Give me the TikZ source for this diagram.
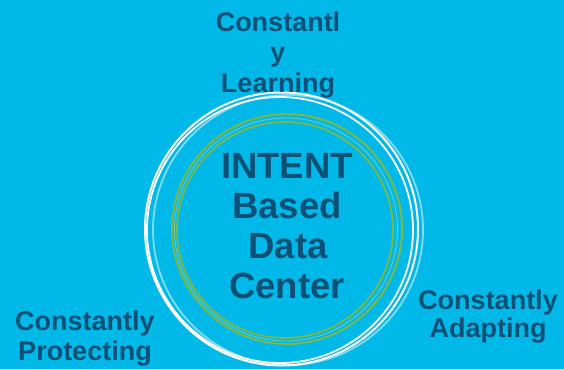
\documentclass[tikz,border=0pt]{standalone}
\usepackage{fontspec}
\setmainfont{Liberation Sans}
\definecolor{bgc}{RGB}{0,185,232}
\definecolor{txc}{RGB}{12,80,118}
\definecolor{grc}{RGB}{122,184,72}
\tikzset{
  lbl/.style={anchor=base, inner sep=0pt, text=txc, font=\fontsize{27}{30}\selectfont\bfseries},
  big/.style={anchor=base, inner sep=0pt, text=txc, font=\fontsize{36.5}{40}\selectfont\bfseries},
  wring/.style={draw=white, line width=2pt},
  gring/.style={draw=grc, line width=2pt}
}
\begin{document}
\begin{tikzpicture}[x=1pt,y=-1pt]
\fill[bgc] (0,0) rectangle (564,369);
\useasboundingbox (0,0) rectangle (564,369);
% rings
\draw[draw=white, opacity=0.5, line width=1.8pt] (288,230) circle (135);
\draw[wring] (281.5,229) circle (136.5);
\draw[wring, line width=1.8pt] (280,230) circle (133);
\draw[gring] (287,229) circle (115);
\draw[draw=grc!50!white, opacity=0.6, line width=0.8pt] (286,229.5) circle (111.5);
\draw[gring, line width=1.8pt] (285,230) circle (108);
% center text
\node[big] (c1) at (287,178) {INTENT};
\node[big] (c2) at (287,218) {Based};
\node[big] (c3) at (288,258) {Data};
\node[big] (c4) at (287,298) {Center};
% top label
\node[lbl] (t1) at (278,32) {Constantl};
\node[lbl] (t2) at (278,62) {y};
\node[lbl] (t3) at (278,92) {Learning};
% bottom left
\node[lbl] (l1) at (85,330) {Constantly};
\node[lbl] (l2) at (85,360) {Protecting};
% bottom right
\node[lbl] (r1) at (488,309) {Constantly};
\node[lbl] (r2) at (488,337) {Adapting};
\end{tikzpicture}
\end{document}
